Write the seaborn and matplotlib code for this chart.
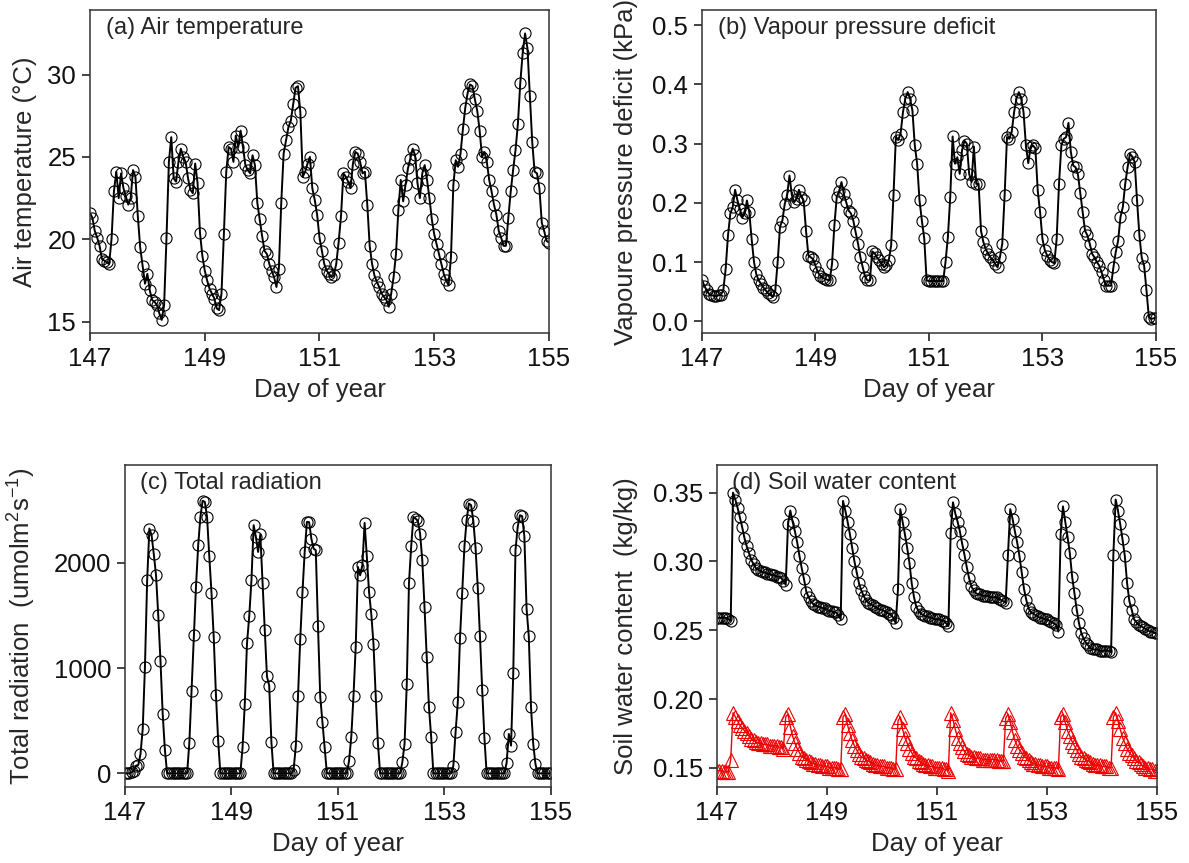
import numpy as np
import pandas as pd
import seaborn as sns
import matplotlib
matplotlib.use('Agg')
import matplotlib.pyplot as plt

sns.set_style('ticks')
plt.rcParams['font.family'] = ['Liberation Sans', 'DejaVu Sans']
plt.rcParams['mathtext.default'] = 'regular'

# hourly readings, day 147 00:00 .. day 155 00:00 (one list per variable)
air_temp = [
    21.6, 21.3, 20.5, 20.1, 19.6, 18.8, 18.7, 18.6, 18.5, 20.0, 22.9, 24.1, 22.5, 24.0, 23.1, 22.6, 22.1, 22.5, 24.2, 23.8, 21.4, 19.5, 18.4, 17.3,
    17.9, 16.9, 16.3, 16.2, 16.0, 15.5, 15.1, 16.0, 20.1, 24.7, 26.2, 23.7, 23.5, 24.7, 25.5, 25.0, 24.7, 23.7, 23.0, 22.8, 24.6, 23.4, 20.4, 19.0,
    18.1, 17.5, 17.0, 16.7, 16.4, 15.8, 15.7, 16.7, 20.3, 24.1, 25.6, 25.5, 24.7, 26.3, 25.6, 26.6, 25.6, 24.5, 24.2, 24.0, 25.1, 24.5, 22.2, 21.2,
    20.2, 19.3, 19.1, 18.5, 18.1, 17.7, 17.1, 18.2, 22.2, 25.2, 26.0, 26.8, 27.2, 28.2, 29.2, 29.3, 27.7, 23.8, 24.1, 24.6, 25.0, 23.1, 22.4, 21.5,
    20.1, 19.3, 18.5, 18.1, 17.9, 17.7, 17.8, 18.5, 19.8, 21.4, 24.0, 23.8, 23.5, 23.1, 24.6, 25.3, 25.2, 24.7, 24.0, 24.1, 22.1, 19.6, 18.5, 17.8,
    17.4, 17.1, 16.7, 16.5, 16.3, 15.9, 16.7, 17.7, 19.1, 21.8, 23.6, 22.3, 23.3, 24.3, 24.9, 25.5, 25.1, 23.4, 22.5, 24.0, 24.5, 23.6, 22.5, 21.2,
    20.3, 19.7, 19.1, 18.5, 17.9, 17.5, 17.2, 18.9, 23.3, 24.8, 24.4, 25.2, 26.7, 28.0, 28.9, 29.4, 29.3, 28.5, 27.8, 26.6, 25.0, 25.3, 24.7, 23.6,
    22.9, 22.1, 21.5, 20.5, 20.1, 19.6, 19.6, 21.3, 22.9, 24.2, 25.4, 27.0, 29.5, 31.3, 32.5, 31.6, 28.7, 25.9, 24.1, 24.0, 23.1, 21.0, 20.5, 19.9,
    19.8,
]

vpd = [
    0.070, 0.060, 0.052, 0.046, 0.044, 0.043, 0.042, 0.044, 0.045, 0.052, 0.088, 0.145, 0.182, 0.193, 0.222, 0.204, 0.190, 0.175, 0.182, 0.204, 0.184, 0.139, 0.100, 0.079,
    0.069, 0.063, 0.057, 0.052, 0.047, 0.044, 0.041, 0.052, 0.100, 0.160, 0.170, 0.198, 0.213, 0.246, 0.213, 0.201, 0.207, 0.222, 0.210, 0.204, 0.153, 0.111, 0.108, 0.105,
    0.094, 0.083, 0.077, 0.073, 0.072, 0.070, 0.069, 0.097, 0.162, 0.210, 0.220, 0.235, 0.215, 0.201, 0.187, 0.182, 0.170, 0.150, 0.131, 0.108, 0.091, 0.075, 0.069, 0.069,
    0.118, 0.115, 0.108, 0.103, 0.097, 0.091, 0.095, 0.103, 0.128, 0.213, 0.311, 0.306, 0.317, 0.353, 0.376, 0.387, 0.376, 0.356, 0.297, 0.266, 0.204, 0.170, 0.140, 0.069,
    0.068, 0.068, 0.068, 0.068, 0.068, 0.068, 0.068, 0.100, 0.142, 0.210, 0.312, 0.266, 0.277, 0.249, 0.289, 0.305, 0.300, 0.249, 0.235, 0.295, 0.232, 0.232, 0.153, 0.134,
    0.122, 0.114, 0.108, 0.103, 0.097, 0.091, 0.108, 0.131, 0.213, 0.311, 0.308, 0.320, 0.353, 0.376, 0.387, 0.376, 0.353, 0.297, 0.267, 0.294, 0.297, 0.292, 0.221, 0.184,
    0.139, 0.120, 0.111, 0.104, 0.100, 0.098, 0.139, 0.232, 0.297, 0.308, 0.311, 0.335, 0.286, 0.263, 0.260, 0.248, 0.216, 0.184, 0.153, 0.145, 0.131, 0.114, 0.108, 0.100,
    0.094, 0.083, 0.070, 0.060, 0.060, 0.060, 0.091, 0.117, 0.136, 0.176, 0.193, 0.232, 0.260, 0.283, 0.278, 0.269, 0.204, 0.145, 0.107, 0.094, 0.052, 0.007, 0.004, 0.005,
    0.006,
]

radiation = [
    0, 0, 0, 10, 25, 73, 80, 184, 422, 1010, 1835, 2327, 2264, 2083, 1883, 1502, 1073, 565, 222, 0, 0, 0, 0, 0,
    0, 0, 0, 0, 0, 286, 787, 1311, 1772, 2168, 2438, 2591, 2581, 2438, 2064, 1715, 1295, 749, 311, 0, 0, 0, 0, 0,
    0, 0, 0, 0, 0, 248, 660, 1238, 1492, 1835, 2359, 2248, 2105, 2273, 1810, 1365, 921, 835, 295, 0, 0, 0, 0, 0,
    0, 0, 0, 0, 32, 264, 740, 1280, 1724, 2105, 2391, 2388, 2232, 2137, 2121, 1397, 730, 486, 254, 0, 0, 0, 0, 0,
    0, 0, 0, 0, 0, 121, 349, 740, 1206, 1962, 1883, 1978, 2381, 2064, 1724, 1518, 1232, 740, 286, 0, 0, 0, 0, 0,
    0, 0, 0, 0, 0, 105, 279, 845, 1810, 2159, 2438, 2422, 2400, 2280, 2026, 1581, 1105, 629, 349, 0, 0, 0, 0, 0,
    0, 0, 0, 0, 73, 390, 676, 1289, 1715, 2159, 2413, 2565, 2550, 2400, 2146, 1765, 1302, 794, 337, 0, 0, 0, 0, 0,
    0, 0, 0, 0, 100, 375, 264, 953, 2121, 2343, 2454, 2445, 2254, 1565, 1302, 629, 279, 89, 0, 0, 0, 0, 0, 0,
    0,
]

# soil water content, black circles
swc_black = [
    0.259, 0.259, 0.259, 0.259, 0.259, 0.258, 0.257, 0.350, 0.345, 0.339, 0.332, 0.325, 0.317, 0.311, 0.306, 0.301, 0.298, 0.295, 0.294, 0.293, 0.292, 0.292, 0.291, 0.291,
    0.290, 0.290, 0.289, 0.289, 0.288, 0.286, 0.283, 0.327, 0.337, 0.329, 0.322, 0.314, 0.304, 0.295, 0.287, 0.278, 0.274, 0.271, 0.269, 0.268, 0.267, 0.267, 0.266, 0.266,
    0.265, 0.264, 0.264, 0.263, 0.263, 0.261, 0.258, 0.344, 0.337, 0.329, 0.320, 0.310, 0.300, 0.292, 0.284, 0.279, 0.275, 0.272, 0.270, 0.269, 0.268, 0.267, 0.266, 0.265,
    0.265, 0.264, 0.263, 0.262, 0.261, 0.259, 0.255, 0.280, 0.338, 0.329, 0.320, 0.310, 0.299, 0.284, 0.274, 0.267, 0.264, 0.262, 0.261, 0.260, 0.260, 0.259, 0.259, 0.258,
    0.258, 0.258, 0.257, 0.257, 0.255, 0.253, 0.321, 0.343, 0.335, 0.329, 0.322, 0.313, 0.305, 0.296, 0.288, 0.282, 0.279, 0.277, 0.276, 0.276, 0.275, 0.275, 0.275, 0.274,
    0.274, 0.274, 0.274, 0.273, 0.272, 0.271, 0.270, 0.305, 0.338, 0.331, 0.322, 0.314, 0.304, 0.292, 0.280, 0.272, 0.266, 0.263, 0.262, 0.261, 0.260, 0.259, 0.259, 0.258,
    0.258, 0.257, 0.256, 0.255, 0.254, 0.249, 0.320, 0.340, 0.329, 0.318, 0.306, 0.289, 0.277, 0.265, 0.255, 0.248, 0.244, 0.241, 0.239, 0.237, 0.236, 0.236, 0.236, 0.235,
    0.235, 0.235, 0.235, 0.235, 0.234, 0.305, 0.345, 0.337, 0.327, 0.316, 0.304, 0.284, 0.271, 0.265, 0.258, 0.256, 0.254, 0.253, 0.252, 0.251, 0.250, 0.249, 0.249, 0.248,
    0.248,
]

# soil water content, red triangles
swc_red = [
    0.148, 0.148, 0.148, 0.147, 0.147, 0.147, 0.156, 0.190, 0.187, 0.184, 0.181, 0.179, 0.177, 0.175, 0.173, 0.171, 0.170, 0.169, 0.168, 0.168, 0.167, 0.167, 0.167, 0.166,
    0.166, 0.166, 0.166, 0.165, 0.165, 0.164, 0.187, 0.189, 0.180, 0.173, 0.168, 0.164, 0.161, 0.158, 0.157, 0.156, 0.155, 0.154, 0.153, 0.153, 0.152, 0.152, 0.151, 0.151,
    0.151, 0.150, 0.150, 0.150, 0.150, 0.149, 0.149, 0.187, 0.189, 0.181, 0.175, 0.170, 0.166, 0.163, 0.160, 0.158, 0.157, 0.156, 0.155, 0.154, 0.153, 0.152, 0.152, 0.151,
    0.151, 0.151, 0.150, 0.150, 0.150, 0.149, 0.149, 0.184, 0.187, 0.178, 0.172, 0.168, 0.164, 0.161, 0.158, 0.157, 0.155, 0.154, 0.153, 0.152, 0.152, 0.151, 0.151, 0.150,
    0.150, 0.150, 0.150, 0.149, 0.149, 0.148, 0.190, 0.185, 0.178, 0.172, 0.168, 0.165, 0.162, 0.160, 0.159, 0.158, 0.158, 0.157, 0.157, 0.157, 0.156, 0.156, 0.156, 0.156,
    0.156, 0.156, 0.156, 0.155, 0.155, 0.155, 0.186, 0.189, 0.183, 0.176, 0.170, 0.166, 0.163, 0.161, 0.158, 0.157, 0.156, 0.154, 0.153, 0.153, 0.152, 0.152, 0.151, 0.151,
    0.151, 0.150, 0.150, 0.150, 0.150, 0.149, 0.187, 0.189, 0.183, 0.177, 0.173, 0.169, 0.166, 0.163, 0.160, 0.158, 0.157, 0.156, 0.155, 0.154, 0.153, 0.152, 0.152, 0.152,
    0.151, 0.151, 0.151, 0.150, 0.150, 0.187, 0.190, 0.184, 0.178, 0.172, 0.168, 0.164, 0.161, 0.159, 0.157, 0.155, 0.154, 0.153, 0.151, 0.150, 0.150, 0.149, 0.149, 0.148,
    0.148,
]

day = 147 + np.arange(len(air_temp)) / 24.0


def style_axis(ax, ylim, yticks, title, ylabel, ylabel_x):
    ax.set_xlim(147, 155)
    ax.set_xticks([147, 149, 151, 153, 155])
    ax.set_ylim(*ylim)
    ax.set_yticks(yticks)
    for s in ax.spines.values():
        s.set_visible(True)
        s.set_color('#333333')
        s.set_linewidth(1.1)
    ax.tick_params(direction='out', length=6, width=1.1, labelsize=18.5,
                   top=False, right=False, colors='#111111', pad=4)
    ax.set_xlabel('Day of year', fontsize=18.5, labelpad=5)
    ax.set_ylabel(ylabel, fontsize=18.5)
    ax.yaxis.set_label_coords(ylabel_x, 0.5)
    ax.text(0.035, 0.98, title, transform=ax.transAxes, fontsize=17,
            ha='left', va='top')


def draw(ax, y, color='black', marker='o', ms=8, lw=1.4):
    df = pd.DataFrame({'day': day, 'v': y})
    sns.lineplot(data=df, x='day', y='v', ax=ax, color=color, lw=lw,
                 marker=marker, markersize=ms, markerfacecolor='none',
                 markeredgecolor=color, markeredgewidth=0.8, legend=False)


fig = plt.figure(figsize=(11.89, 8.63), dpi=100)
ax_a = fig.add_axes([0.0757, 0.614, 0.386, 0.374])
ax_b = fig.add_axes([0.5904, 0.614, 0.3818, 0.374])
ax_c = fig.add_axes([0.1051, 0.088, 0.3583, 0.373])
ax_d = fig.add_axes([0.6030, 0.088, 0.3700, 0.373])

draw(ax_a, air_temp)
style_axis(ax_a, (14.3, 33.9), [15, 20, 25, 30], '(a) Air temperature',
           'Air temperature (°C)', -0.115)

draw(ax_b, vpd)
style_axis(ax_b, (-0.02, 0.525), [0.0, 0.1, 0.2, 0.3, 0.4, 0.5],
           '(b) Vapour pressure deficit', 'Vapoure pressure deficit (kPa)', -0.141)

draw(ax_c, radiation)
style_axis(ax_c, (-130, 2930), [0, 1000, 2000], '(c) Total radiation',
           r'Total radiation  (umolm$^{2}$s$^{-1}$)', -0.204)

draw(ax_d, swc_black)
draw(ax_d, swc_red, color='#ee0000', marker='^', ms=9.5, lw=1.0)
style_axis(ax_d, (0.136, 0.370), [0.15, 0.20, 0.25, 0.30, 0.35],
           '(d) Soil water content', 'Soil water content  (kg/kg)', -0.18)

fig.savefig('out.png', dpi=100)
